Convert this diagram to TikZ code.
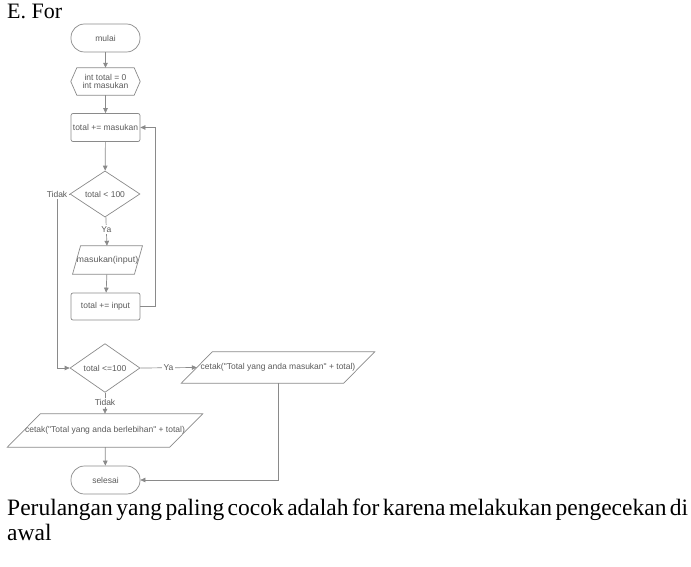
\documentclass[tikz,border=0pt]{standalone}
\usepackage{fontspec}
\usepackage{graphicx}
\setmainfont{Liberation Serif}
\newfontfamily\fcfont{Liberation Sans}
\usetikzlibrary{shapes.geometric,arrows.meta}
\definecolor{lnc}{HTML}{8A8A8A}
\definecolor{txc}{HTML}{5A5A5A}
\tikzset{
  fc/.style={font=\fcfont\fontsize{8.5}{9.5}\selectfont, text=txc, inner sep=0pt, align=center},
  term/.style={fc, draw=lnc, line width=0.7pt, rounded corners=13.5pt, minimum width=69pt, minimum height=28pt},
  proc/.style={fc, draw=lnc, line width=0.7pt, rounded corners=2pt, minimum width=69pt, minimum height=28pt},
  dec/.style={fc, diamond, draw=lnc, line width=0.7pt, minimum width=70pt, minimum height=40pt},
  bare/.style={fc},
  shp/.style={draw=lnc, line width=0.7pt},
  conn/.style={draw=lnc, line width=0.7pt},
  arr/.style={conn, -{Triangle[length=5pt,width=4.5pt,fill=lnc]}},
  lbl/.style={fc, fill=white, inner sep=1.5pt},
  big/.style={font=\fontsize{23.5}{28}\selectfont, inner sep=0pt, anchor=base west},
}
\begin{document}
\begin{tikzpicture}[x=1pt,y=-1pt]
\useasboundingbox (0,0) rectangle (691,567);
\node[big, font=\fontsize{22}{26}\selectfont] (title) at (7,19) {E. For};

\node[term] (mulai) at (105.5,38) {mulai};
\node[bare, minimum width=69pt, minimum height=27pt] (init) at (105.5,81.5) {int total = 0\\[-1pt]int masukan};
\draw[shp] (init.west) -- ([xshift=6pt]init.north west) -- ([xshift=-6pt]init.north east) -- (init.east) -- ([xshift=-6pt]init.south east) -- ([xshift=6pt]init.south west) -- cycle;
\node[proc] (tm) at (105.5,127.5) {total += masukan};
\node[dec] (d1) at (105,194) {total < 100};
\node[bare, minimum width=61pt, minimum height=28pt] (p1) at (107.5,260) {\scalebox{1.05}[1]{masukan(input)}};
\draw[shp] ([xshift=4pt]p1.north west) -- ([xshift=4pt]p1.north east) -- ([xshift=-4pt]p1.south east) -- ([xshift=-4pt]p1.south west) -- cycle;
\node[proc, minimum height=27pt] (ti) at (105.5,306.5) {total += input};
\node[dec] (d2) at (105,368) {total <=100};
\node[bare, minimum width=162pt, minimum height=31pt] (p2) at (278,367.5) {cetak("Total yang anda masukan" + total)};
\draw[shp] ([xshift=15.5pt]p2.north west) -- ([xshift=15.5pt]p2.north east) -- ([xshift=-15.5pt]p2.south east) -- ([xshift=-15.5pt]p2.south west) -- cycle;
\node[bare, minimum width=162pt, minimum height=33pt] (p3) at (105,430.5) {cetak("Total yang anda berlebihan" + total)};
\draw[shp] ([xshift=16.5pt]p3.north west) -- ([xshift=16.5pt]p3.north east) -- ([xshift=-16.5pt]p3.south east) -- ([xshift=-16.5pt]p3.south west) -- cycle;
\node[term] (selesai) at (105.5,480) {selesai};

\coordinate (loopR) at (155,306.5);
\coordinate (leftX) at (57,194);

\draw[arr] (mulai) -- (init);
\draw[arr] (init) -- (tm);
\draw[arr] (tm) -- (d1);
\draw[arr] (d1) -- node[lbl, pos=0.45] {Ya} (p1);
\draw[arr] (p1) -- (ti);
\draw[arr] (ti.east) -- (loopR) |- (tm.east);
\draw[arr] (d1.west) -- (leftX) node[lbl, inner sep=2pt] {Tidak} |- (d2.west);
\draw[arr] (d2.east) -- node[lbl, pos=0.5] {Ya} (p2.west);
\draw[arr] (d2) -- node[lbl, pos=0.45] {Tidak} (p3);
\draw[arr] (p3) -- (selesai);
\draw[arr] (p2.south) |- (selesai.east);

\node[big] (para1) at (7,515) {\spaceskip=3pt plus 3pt minus 2pt\makebox[681pt][s]{Perulangan yang paling cocok adalah for karena melakukan pengecekan di}};
\node[big] (para2) at (7,540) {awal};
\end{tikzpicture}
\end{document}
